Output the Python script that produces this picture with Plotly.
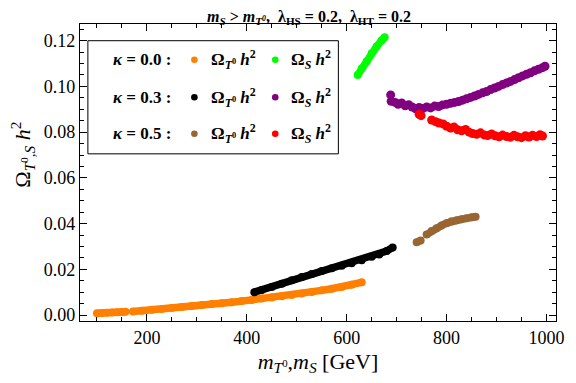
import plotly.graph_objects as go

# kappa = 0.0
orange_x = [100, 110, 120, 130, 140, 150, 157, None, 172, 190, 210, 230, 250, 270, 290, 310, 330, 350,
            370, 390, 410, 430, 450, 470, 490, 510, 530, 550, 570, 590, 610, 630]
orange_y = [0.0008, 0.0009, 0.0010, 0.0011, 0.0012, 0.0013, 0.0014, None, 0.0016, 0.0019, 0.0023,
            0.0027, 0.0031, 0.0035, 0.0040, 0.0044, 0.0048, 0.0052, 0.0056, 0.0061, 0.0066, 0.0072,
            0.0077, 0.0082, 0.0088, 0.0094, 0.0101, 0.0108, 0.0115, 0.0123, 0.0133, 0.0143]
green_x = [622, 630, 640, 650, 660, 670, 676]
green_y = [0.1050, 0.1078, 0.1110, 0.1145, 0.1175, 0.1202, 0.1215]

# kappa = 0.3
black_x = [415, 430, 450, 470, 490, 510, 530, 550, 570, 590, 610, 630, 650, 665, 680, 692]
black_y = [0.0100, 0.0110, 0.0123, 0.0137, 0.0152, 0.0166, 0.0180, 0.0193, 0.0205, 0.0216,
           0.0227, 0.0240, 0.0255, 0.0265, 0.0280, 0.0295]
purple_x = [688, 689, 697, 703, 710, 717, 724, 731, 738, 745, 752, 760, 768, 776, 784, 792, 800,
            808, 816, 824, 832, 840, 848, 856, 864, 872, 880, 888, 896, 904, 912, 920, 928, 936,
            944, 952, 960, 968, 976, 984, 992, 997]
purple_y = [0.0963, 0.0935, 0.0930, 0.0922, 0.0928, 0.0915, 0.0920, 0.0910, 0.0902, 0.0908,
            0.0903, 0.0910, 0.0906, 0.0914, 0.0912, 0.0919, 0.0922, 0.0926, 0.0930, 0.0934,
            0.0940, 0.0946, 0.0952, 0.0958, 0.0965, 0.0972, 0.0978, 0.0986, 0.0993, 0.1000,
            0.1008, 0.1015, 0.1022, 0.1030, 0.1038, 0.1046, 0.1053, 0.1060, 0.1068, 0.1075,
            0.1082, 0.1088]

# kappa = 0.5
brown_x = [740, 748, None, 760, 770, 780, 790, 800, 810, 820, 830, 840, 850, 858]
brown_y = [0.0318, 0.0326, None, 0.0352, 0.0368, 0.0380, 0.0392, 0.0402, 0.0410, 0.0415,
           0.0419, 0.0423, 0.0428, 0.0430]
red_x = [745, 749, 770, 778, 785, 793, 800, 808, 815, 822, 830, 838, 845, 852, 860, 868, 875,
         882, 890, 897, 905, 912, 920, 928, 935, 942, 950, 958, 965, 972, 980, 987, 992]
red_y = [0.0878, 0.0872, 0.0853, 0.0846, 0.0840, 0.0836, 0.0826, 0.0818, 0.0822, 0.0810,
         0.0806, 0.0812, 0.0800, 0.0794, 0.0791, 0.0797, 0.0788, 0.0785, 0.0792, 0.0784,
         0.0780, 0.0787, 0.0781, 0.0778, 0.0786, 0.0780, 0.0776, 0.0784, 0.0779, 0.0786,
         0.0781, 0.0789, 0.0783]

x_ticks = [200, 400, 600, 800, 1000]
y_ticks = [0.00, 0.02, 0.04, 0.06, 0.08, 0.10, 0.12]

kappa_labels = ['0.0', '0.3', '0.5']
line_series = [
    (orange_x, orange_y, '#FF8000'), (green_x, green_y, '#00FF00'),
    (black_x, black_y, '#000000'), (brown_x, brown_y, '#996633'),
]
dot_series = [(purple_x, purple_y, '#800080'), (red_x, red_y, '#FF0000')]

SERIF = 'Liberation Serif'

fig = go.Figure()
for xs, ys, col in line_series:
    fig.add_trace(go.Scatter(
        x=xs, y=ys, mode='lines+markers',
        line=dict(color=col, width=7.5),
        marker=dict(color=col, size=8),
        showlegend=False, hoverinfo='skip',
    ))
for xs, ys, col in dot_series:
    fig.add_trace(go.Scatter(
        x=xs, y=ys, mode='markers',
        marker=dict(color=col, size=9),
        showlegend=False, hoverinfo='skip',
    ))

# the page body has an 8px margin, so the figure is drawn 8px right/down
OFF = 8
W, H = 568, 375
px0, px1, py0, py1 = 80, 562.7, 24.3, 321   # plot frame in window pixels


def paper_x(px):
    return (px - px0) / (px1 - px0)


def paper_y(py):
    return 1 - (py - py0) / (py1 - py0)


# hand-made legend box (three rows, two columns)
fig.add_shape(type='rect', xref='paper', yref='paper',
              x0=paper_x(88), x1=paper_x(342), y0=paper_y(154), y1=paper_y(41),
              line=dict(color='black', width=1), fillcolor='white')

row_py = [60, 97.5, 134]
dot_colors = [('#FF8000', '#00FF00'), ('#000000', '#800080'), ('#996633', '#FF0000')]
for k, py, (c1, c2) in zip(kappa_labels, row_py, dot_colors):
    yy = paper_y(py)
    fig.add_annotation(x=paper_x(174), y=yy, xref='paper', yref='paper',
                       xanchor='right', yanchor='middle',
                       showarrow=False, text=f'<b><i>κ</i> = {k} :</b>',
                       font=dict(family=SERIF, size=17, color='black'))
    fig.add_annotation(x=paper_x(211), y=yy, xref='paper', yref='paper',
                       xanchor='left', yanchor='middle',
                       showarrow=False, text='<b>Ω<sub><i>T</i><sup>0</sup></sub> <i>h</i><sup>2</sup></b>',
                       font=dict(family=SERIF, size=17, color='black'))
    fig.add_annotation(x=paper_x(292), y=yy, xref='paper', yref='paper',
                       xanchor='left', yanchor='middle',
                       showarrow=False, text='<b>Ω<sub><i>S</i></sub> <i>h</i><sup>2</sup></b>',
                       font=dict(family=SERIF, size=17, color='black'))
    for px, c in ((196, c1), (278, c2)):
        fig.add_shape(type='circle', xref='paper', yref='paper',
                      xsizemode='pixel', ysizemode='pixel',
                      xanchor=paper_x(px), yanchor=yy, x0=-3.3, x1=3.3, y0=-3.3, y1=3.3,
                      line=dict(width=0), fillcolor=c)

# y axis label, placed like the reference (a bit above the frame's middle)
fig.add_annotation(x=paper_x(22), y=paper_y(155), xref='paper', yref='paper',
                   xanchor='center', yanchor='middle', textangle=-90, showarrow=False,
                   text='Ω<sub><i>T</i><sup>0</sup>,<i>S</i></sub> <i>h</i><sup>2</sup>',
                   font=dict(family=SERIF, size=22, color='black'))

# plot title as a paper annotation so it sits just above the frame
fig.add_annotation(x=paper_x(312), y=paper_y(18), xref='paper', yref='paper',
                   xanchor='center', yanchor='middle', showarrow=False,
                   text='<b><i>m<sub>S</sub></i> > <i>m<sub>T<sup>0</sup></sub></i>,  '
                        'λ<sub>HS</sub> = 0.2,  λ<sub>HT</sub> = 0.2</b>',
                   font=dict(family=SERIF, size=16, color='black'))

axis_common = dict(
    showline=True, linecolor='black', linewidth=1.3, mirror='ticks',
    ticks='inside', ticklen=7, tickwidth=1, tickcolor='black',
    showgrid=False, zeroline=False,
    tickfont=dict(family=SERIF, size=18, color='black'),
    minor=dict(ticks='inside', ticklen=4, tickwidth=1, tickcolor='black'),
)

fig.update_xaxes(
    range=[66, 1019], tickvals=x_ticks, ticktext=[str(v) for v in x_ticks],
    minor_dtick=50, minor_tick0=0,
    title=dict(text='<i>m</i><sub><i>T</i><sup>0</sup></sub>,<i>m</i><sub><i>S</i></sub> [GeV]',
               font=dict(family=SERIF, size=22, color='black'), standoff=6),
    **axis_common,
)
fig.update_yaxes(
    range=[-0.0026, 0.1273], tickvals=y_ticks, ticktext=[f'{v:.2f}' for v in y_ticks],
    minor_dtick=0.005, minor_tick0=0,
    **axis_common,
)

fig.update_layout(
    width=W, height=H,
    margin=dict(l=px0 - OFF, r=W - (px1 - OFF), t=py0 - OFF, b=H - (py1 - OFF)),
    paper_bgcolor='white', plot_bgcolor='white',
)

fig.write_html('out.html')
